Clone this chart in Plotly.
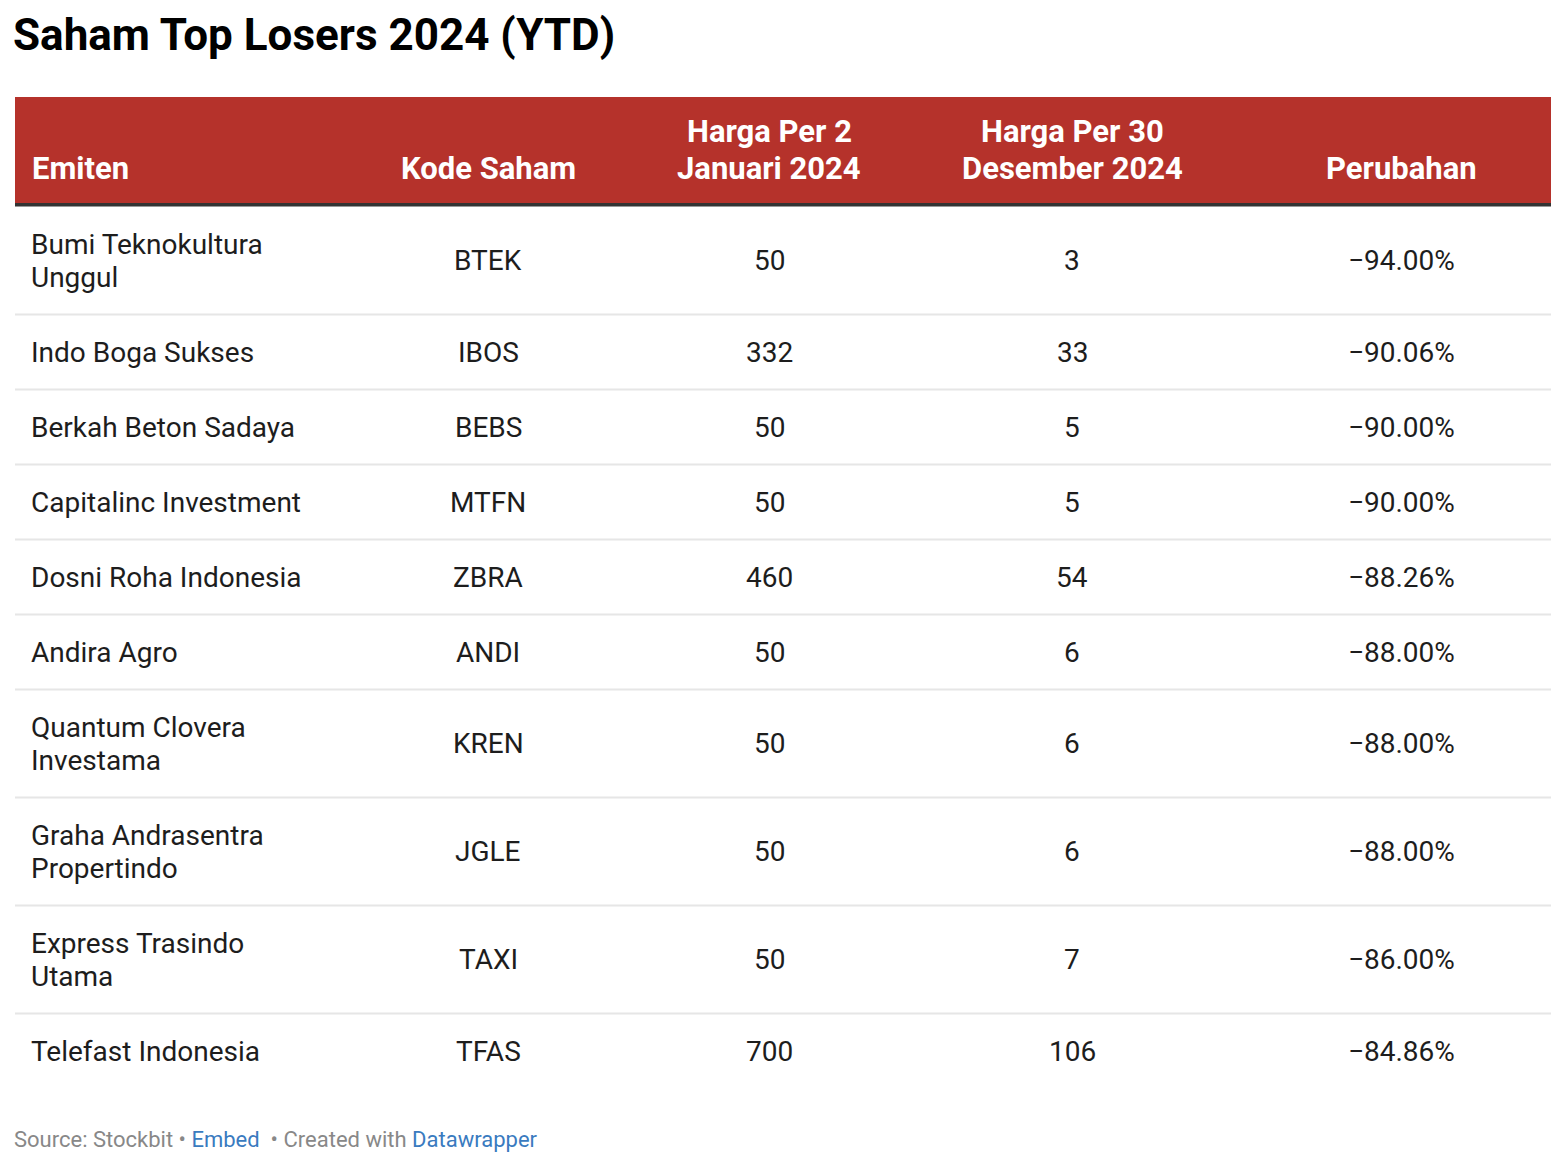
import textwrap
import plotly.graph_objects as go

# ---------------- data ----------------
title = "Saham Top Losers 2024 (YTD)"
headers = [["Emiten"], ["Kode Saham"], ["Harga Per 2", "Januari 2024"],
           ["Harga Per 30", "Desember 2024"], ["Perubahan"]]
emiten = ["Bumi Teknokultura Unggul", "Indo Boga Sukses", "Berkah Beton Sadaya",
          "Capitalinc Investment", "Dosni Roha Indonesia", "Andira Agro",
          "Quantum Clovera Investama", "Graha Andrasentra Propertindo",
          "Express Trasindo Utama", "Telefast Indonesia"]
kode = ["BTEK", "IBOS", "BEBS", "MTFN", "ZBRA", "ANDI", "KREN", "JGLE", "TAXI", "TFAS"]
harga_jan = [50, 332, 50, 50, 460, 50, 50, 50, 50, 700]
harga_des = [3, 33, 5, 5, 54, 6, 6, 6, 7, 106]
perubahan = [-94.00, -90.06, -90.00, -90.00, -88.26, -88.00, -88.00, -88.00, -86.00, -84.86]
source = "Stockbit"

# ---------------- style / layout constants ----------------
W, H = 1566, 1166
PAGE_MARGIN = 8  # default body margin of the html page
TABLE_L, TABLE_R = 15, 1551
COL_X = [29, 488, 769, 1072, 1401]          # text anchor x per column
COL_ALIGN = ["left", "center", "center", "center", "center"]
HEADER_TOP, HEADER_BOTTOM = 97, 203
HEADER_TEXT_Y, HEADER_LINE = 168, 37
BORDER_W = 3.5
ROW_BASE, ROW_LINE = 75, 33
WRAP = 21
FONT = "Roboto, 'Open Sans', sans-serif"
RED = "#b5322b"
TEXT = "#1d1d1d"
SEP = "#e6e6e6"

fig = go.Figure()
shapes, ann = [], []

# header background
shapes.append(dict(type="rect", xref="x", yref="y", x0=TABLE_L, x1=TABLE_R,
                   y0=HEADER_TOP, y1=HEADER_BOTTOM + 1, fillcolor=RED, line_width=0, layer="below"))
# thick border under header
shapes.append(dict(type="line", xref="x", yref="y", x0=TABLE_L, x1=TABLE_R,
                   y0=HEADER_BOTTOM + 1.75, y1=HEADER_BOTTOM + 1.75,
                   line=dict(color="#333333", width=BORDER_W)))

for j, hl in enumerate(headers):
    for k, ln in enumerate(hl):
        ann.append(dict(x=COL_X[j] if j else 30,
                        y=HEADER_TEXT_Y - (len(hl) - 1 - k) * HEADER_LINE,
                        xref="x", yref="y", text=ln,
                        showarrow=False, xanchor=COL_ALIGN[j], yanchor="middle",
                        font=dict(family=FONT, size=31, color="white", weight="bold")))

def fmt_pct(v):
    s = f"{abs(v):.2f}%"
    return ("\u2212" if v < 0 else "") + s

y = HEADER_BOTTOM + 3.5
n = len(emiten)
for i in range(n):
    lines = textwrap.wrap(emiten[i], WRAP)
    rh = ROW_BASE + ROW_LINE * (len(lines) - 1)
    yc = y + rh / 2
    for k, ln in enumerate(lines):
        ann.append(dict(x=COL_X[0], y=yc + (k - (len(lines) - 1) / 2) * ROW_LINE, xref="x", yref="y",
                        text=ln, showarrow=False, xanchor="left", yanchor="middle",
                        font=dict(family=FONT, size=28, color=TEXT)))
    vals = [kode[i], str(harga_jan[i]), str(harga_des[i]), fmt_pct(perubahan[i])]
    for j, v in enumerate(vals, start=1):
        ann.append(dict(x=COL_X[j], y=yc, xref="x", yref="y", text=v, showarrow=False,
                        xanchor=COL_ALIGN[j], yanchor="middle", align=COL_ALIGN[j],
                        font=dict(family=FONT, size=28, color=TEXT)))
    y += rh
    if i < n - 1:
        shapes.append(dict(type="line", xref="x", yref="y", x0=TABLE_L, x1=TABLE_R,
                           y0=y, y1=y, line=dict(color=SEP, width=2)))

# title
ann.append(dict(x=12, y=PAGE_MARGIN, xref="x", yref="y", text=f"<b>{title}</b>", showarrow=False,
                xanchor="left", yanchor="top", borderpad=0,
                font=dict(family=FONT, size=44, color="#000000")))
# footer
footer = (f"<span style='color:#888888'>Source: {source} • </span>"
          "<span style='color:#3a7bbf'>Embed</span>"
          "<span style='color:#888888'>  • Created with </span>"
          "<span style='color:#3a7bbf'>Datawrapper</span>")
ann.append(dict(x=12, y=1139, xref="x", yref="y", text=footer, showarrow=False,
                xanchor="left", yanchor="middle", font=dict(family=FONT, size=22, color="#888888")))

fig.update_layout(
    width=W - 2 * PAGE_MARGIN, height=H - 2 * PAGE_MARGIN, margin=dict(l=0, r=0, t=0, b=0),
    paper_bgcolor="white", plot_bgcolor="white",
    xaxis=dict(range=[PAGE_MARGIN, W - PAGE_MARGIN], visible=False, fixedrange=True),
    yaxis=dict(range=[H - PAGE_MARGIN, PAGE_MARGIN], visible=False, fixedrange=True),
    shapes=shapes, annotations=ann, showlegend=False,
)
fig.write_html("out.html")
